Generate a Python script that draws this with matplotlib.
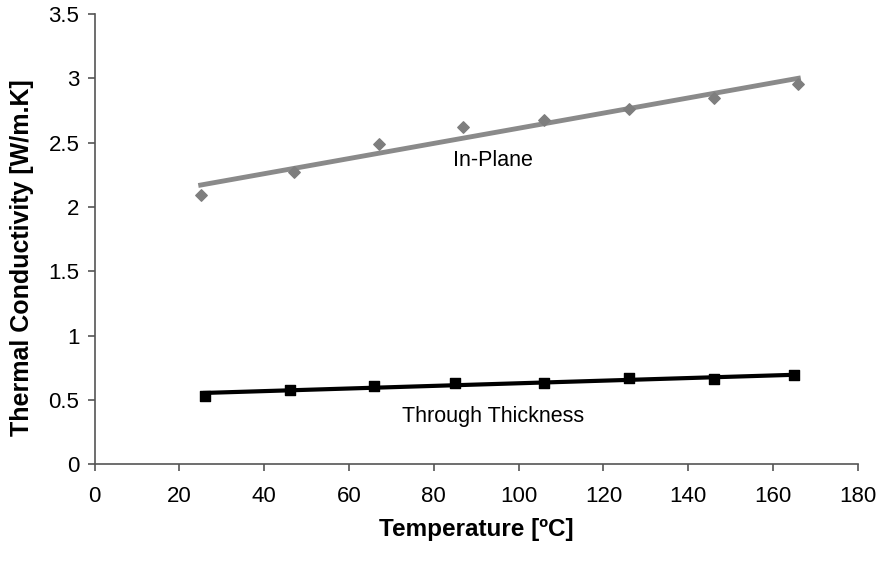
import matplotlib.pyplot as plt
import numpy as np

plt.rcParams['font.family'] = ['Liberation Sans', 'DejaVu Sans']

# 面内 / 厚度方向 热导率
T_in = np.array([25, 47, 67, 87, 106, 126, 146, 166])
k_in = np.array([2.09, 2.27, 2.49, 2.62, 2.68, 2.76, 2.85, 2.96])
T_th = np.array([26, 46, 66, 85, 106, 126, 146, 165])
k_th = np.array([0.53, 0.58, 0.61, 0.63, 0.63, 0.67, 0.66, 0.69])

x_ticks = np.arange(0, 181, 20)
y_ticks = np.arange(0, 3.51, 0.5)

fig = plt.figure(figsize=(8.77, 5.62), dpi=100)
ax = fig.add_axes([0.108, 0.174, 0.870, 0.801])

# 线性趋势线
for T, k, c, lw in [(T_in, k_in, '#8a8a8a', 3.5), (T_th, k_th, 'black', 3.0)]:
    p = np.polyfit(T, k, 1)
    xs = np.array([T.min(), T.max()])
    ax.plot(xs, np.polyval(p, xs), color=c, lw=lw, zorder=2)

ax.scatter(T_in, k_in, marker='D', s=34, color='#7e7e7e', zorder=3)
ax.scatter(T_th, k_th, marker='s', s=45, color='black', zorder=3)

ax.text(94, 2.36, 'In-Plane', fontsize=15.5, ha='center', va='center')
ax.text(94, 0.37, 'Through Thickness', fontsize=15.5, ha='center', va='center')

ax.set_xlim(0, 180)
ax.set_ylim(0, 3.5)
ax.set_xticks(x_ticks)
ax.set_yticks(y_ticks)
ax.set_yticklabels([f'{v:g}' for v in y_ticks])
ax.tick_params(direction='out', length=5, width=1.2, color='#555555',
               labelsize=16, pad=6)
ax.tick_params(axis='x', pad=11)
for s in ['top', 'right']:
    ax.spines[s].set_visible(False)
for s in ['left', 'bottom']:
    ax.spines[s].set_color('#555555')
    ax.spines[s].set_linewidth(1.2)

ax.set_xlabel('Temperature [ºC]', fontsize=17.5, fontweight='bold')
ax.set_ylabel('Thermal Conductivity [W/m.K]', fontsize=18, fontweight='bold')
ax.xaxis.set_label_coords(0.5, -0.12)
ax.yaxis.set_label_coords(-0.08, 0.46)

fig.savefig('out.png', dpi=100)
